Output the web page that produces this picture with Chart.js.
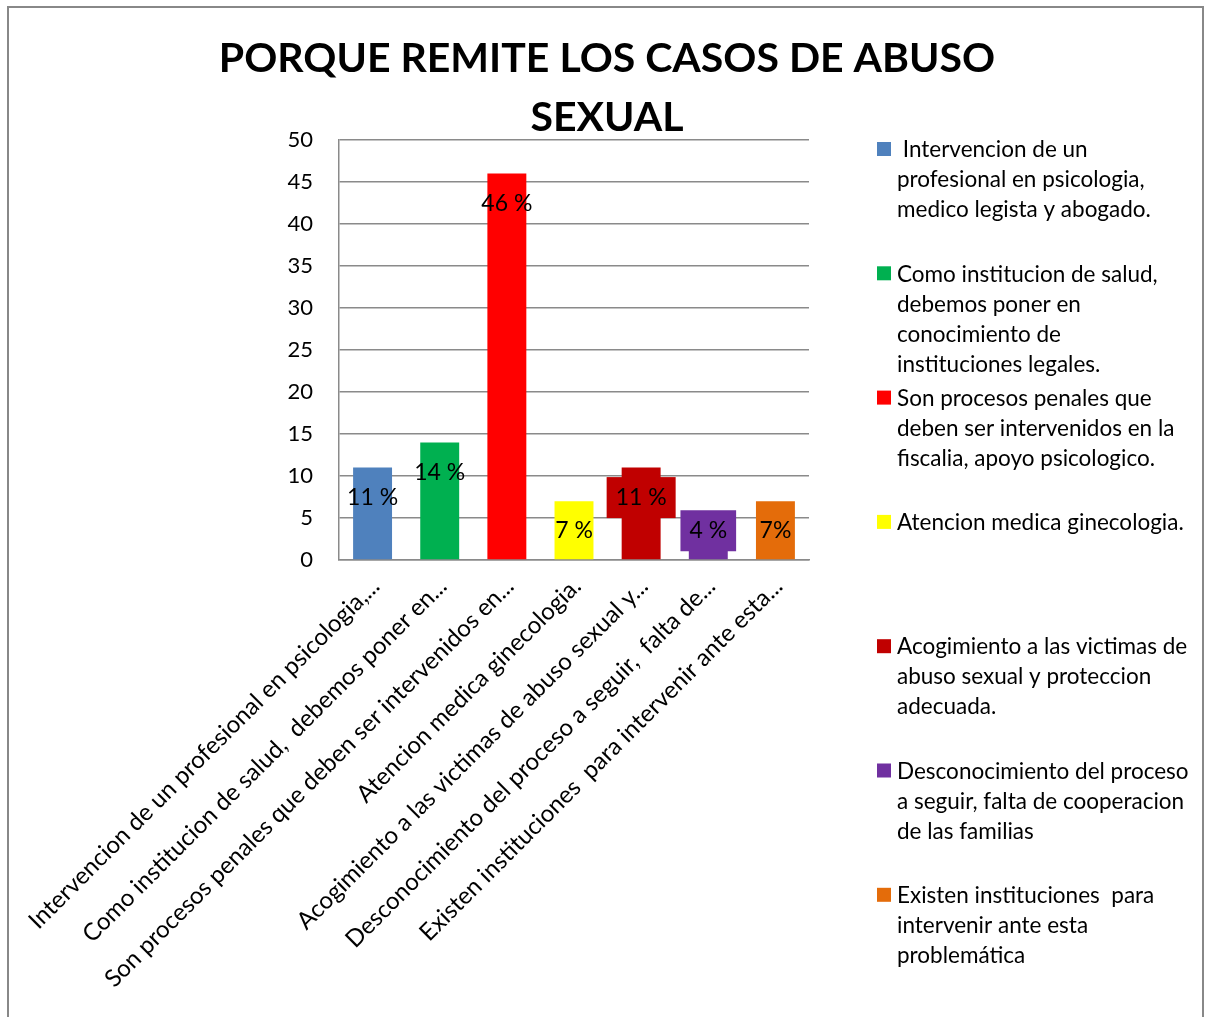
<!DOCTYPE html>
<html>
<head>
<meta charset="utf-8">
<script src="https://cdn.jsdelivr.net/npm/chart.js@4.4.0/dist/chart.umd.min.js"></script>
<style>
body { margin: 0; background: #fff; }
#wrap { width: 1205px; height: 1017px; position: relative; }
</style>
</head>
<body>
<div id="wrap"><canvas id="chart"></canvas></div>
<script>
// chart data
const titleLines = ['PORQUE REMITE LOS CASOS DE ABUSO', 'SEXUAL'];
const tickLabels = [
    'Intervencion de un profesional en psicologia,...',
    'Como institucion de salud,  debemos poner en...',
    'Son procesos penales que deben ser intervenidos en...',
    'Atencion medica ginecologia.',
    'Acogimiento a las victimas de abuso sexual y...',
    'Desconocimiento del proceso a seguir,  falta de...',
    'Existen instituciones  para intervenir ante esta...'
];
const values = [11, 14, 46, 7, 11, 4, 7];
const valueLabels = ['11 %', '14 %', '46 %', '7 %', '11 %', '4 %', '7%'];
const barColors = ['#4f81bd', '#00b050', '#ff0000', '#ffff00', '#c00000', '#7030a0', '#e46c0a'];
const boxedLabels = [false, false, false, false, true, true, false];
const legendLines = [
    [' Intervencion de un', 'profesional en psicologia,', 'medico legista y abogado.'],
    ['Como institucion de salud,', 'debemos poner en', 'conocimiento de', 'instituciones legales.'],
    ['Son procesos penales que', 'deben ser intervenidos en la', 'fiscalia, apoyo psicologico.'],
    ['Atencion medica ginecologia.'],
    ['Acogimiento a las victimas de', 'abuso sexual y proteccion', 'adecuada.'],
    ['Desconocimiento del proceso', 'a seguir, falta de cooperacion', 'de las familias'],
    ['Existen instituciones  para', 'intervenir ante esta', 'problemática']
];

const FONT = 'Lato, "Open Sans", sans-serif';
const GRID = '#8a8a8a';

// title, frame, value labels and the right-hand legend
const extras = {
    id: 'extras',
    beforeDraw(chart) {
        const ctx = chart.ctx;
        ctx.save();
        ctx.fillStyle = '#fff';
        ctx.fillRect(0, 0, chart.width, chart.height);
        ctx.strokeStyle = '#888';
        ctx.lineWidth = 2;
        ctx.strokeRect(8, 7, 1195, 1040);
        ctx.restore();
    },
    afterDatasetsDraw(chart) {
        const ctx = chart.ctx;
        const meta = chart.getDatasetMeta(0);
        ctx.save();
        ctx.font = '23px ' + FONT;
        ctx.textAlign = 'center';
        ctx.textBaseline = 'middle';
        meta.data.forEach((bar, i) => {
            const cy = Math.min(bar.y + 30, bar.base - 28.5);
            const w = ctx.measureText(valueLabels[i]).width;
            if (boxedLabels[i]) {
                ctx.fillStyle = barColors[i];
                ctx.fillRect(bar.x - w / 2 - 9, cy - 20.5, w + 18, 41);
            }
            ctx.fillStyle = '#000';
            ctx.fillText(valueLabels[i], bar.x, cy);
        });
        ctx.restore();
    },
    afterDraw(chart) {
        const ctx = chart.ctx;
        ctx.save();
        ctx.fillStyle = '#000';
        ctx.textAlign = 'center';
        ctx.textBaseline = 'middle';
        ctx.font = 'bold 41px ' + FONT;
        titleLines.forEach((t, i) => ctx.fillText(t, 607, 59 + i * 59));

        ctx.textAlign = 'left';
        ctx.font = '22.5px ' + FONT;
        legendLines.forEach((lines, i) => {
            const cy = 149 + i * 124.3;
            ctx.fillStyle = barColors[i];
            ctx.fillRect(877, cy - 7, 14, 14);
            ctx.fillStyle = '#000';
            lines.forEach((l, k) => ctx.fillText(l, 897, cy + 1 + k * 30));
        });
        ctx.restore();
    }
};

new Chart(document.getElementById('chart'), {
    type: 'bar',
    data: {
        labels: tickLabels,
        datasets: [{
            data: values,
            backgroundColor: barColors,
            categoryPercentage: 1,
            barPercentage: 0.58
        }]
    },
    options: {
        responsive: true,
        maintainAspectRatio: false,
        animation: false,
        layout: { padding: { top: 140, right: 396, left: 0, bottom: 0 } },
        plugins: {
            legend: { display: false },
            tooltip: { enabled: false }
        },
        scales: {
            x: {
                grid: { display: false },
                border: { color: GRID, width: 1.5 },
                ticks: {
                    color: '#000',
                    font: { family: FONT, size: 24 },
                    minRotation: 45,
                    maxRotation: 45,
                    autoSkip: false,
                    padding: 4,
                    labelOffset: 3
                },
                afterFit(s) {
                    s.height = 457;
                    s.paddingLeft = 0;
                    s.paddingRight = 0;
                }
            },
            y: {
                min: 0,
                max: 50,
                grid: { color: GRID, lineWidth: 1.5, drawTicks: false },
                border: { color: GRID, width: 1.5 },
                ticks: {
                    stepSize: 5,
                    color: '#000',
                    font: { family: FONT, size: 22 },
                    padding: 26
                },
                afterFit(s) {
                    s.width = 339;
                }
            }
        }
    },
    plugins: [extras]
});
</script>
</body>
</html>
